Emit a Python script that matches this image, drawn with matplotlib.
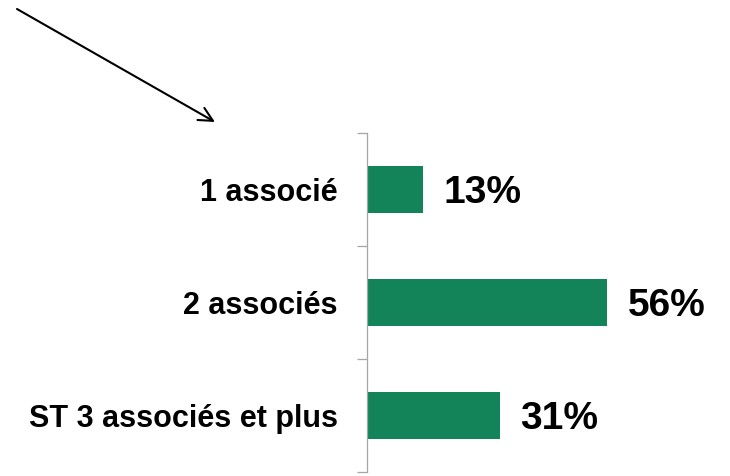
import matplotlib
matplotlib.use("Agg")
import matplotlib.pyplot as plt

plt.rcParams['font.family'] = ['Liberation Sans', 'DejaVu Sans']

categories = ["1 associé", "2 associés", "ST 3 associés et plus"]
values = [13, 56, 31]
value_labels = ["13%", "56%", "31%"]

bar_color = "#138359"
axis_color = "#A6A6A6"

fig = plt.figure(figsize=(7.30, 4.76), dpi=100)
ax = fig.add_axes([0.5027, 0.0084, 0.47, 0.7122])

ypos = list(range(len(categories)))
ax.barh(ypos, values, height=0.41, color=bar_color)
ax.set_ylim(len(categories) - 0.5, -0.5)
ax.set_xlim(0, 80)

for y, v, lab in zip(ypos, values, value_labels):
    ax.text(v + 4.8, y + 0.03, lab, ha="left", va="center", fontsize=28,
            fontweight="bold", color="black")

ax.set_yticks(ypos)
ax.set_yticklabels(categories, fontsize=22, fontweight="bold")
ax.tick_params(axis="y", which="major", length=0, pad=21)
ax.set_yticks([-0.5, 0.5, 1.5, 2.5], minor=True)
ax.tick_params(axis="y", which="minor", length=7, width=0.9, color=axis_color)
ax.set_xticks([])

for side in ["top", "right", "bottom"]:
    ax.spines[side].set_visible(False)
ax.spines["left"].set_color(axis_color)
ax.spines["left"].set_linewidth(0.9)

# fleche en haut a gauche
fig.add_artist(matplotlib.patches.FancyArrowPatch(
    (17 / 730, 1 - 9 / 476), (215 / 730, 1 - 122 / 476),
    transform=fig.transFigure, arrowstyle="->,head_length=10,head_width=5",
    color="black", lw=1.5, mutation_scale=1, shrinkA=0, shrinkB=0))

fig.savefig("out.png", dpi=100)
